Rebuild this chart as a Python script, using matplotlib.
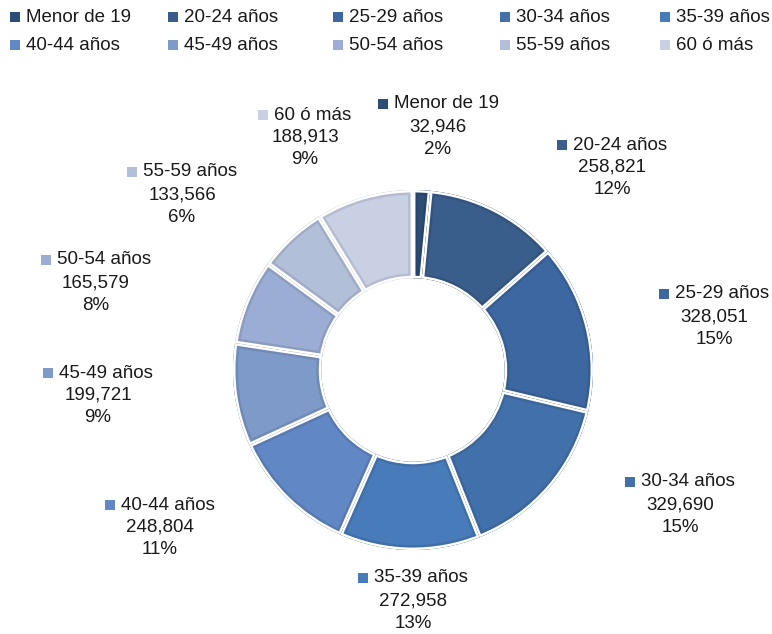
import matplotlib
matplotlib.use('AGG')

import matplotlib.pyplot as plt
from matplotlib.patches import Rectangle, Wedge

plt.rcParams['font.family'] = ['Liberation Sans', 'DejaVu Sans']

# data
groups = ['Menor de 19', '20-24 años', '25-29 años', '30-34 años', '35-39 años',
          '40-44 años', '45-49 años', '50-54 años', '55-59 años', '60 ó más']
values = [32946, 258821, 328051, 329690, 272958, 248804, 199721, 165579, 133566, 188913]
pct_labels = ['2%', '12%', '15%', '15%', '13%', '11%', '9%', '8%', '6%', '9%']
colors = ['#2C4D75', '#3A5E8C', '#3D67A0', '#4270AA', '#477BBA',
          '#6187C4', '#7E9AC9', '#9BADD4', '#B2BFD9', '#C9D0E4']
edge_colors = ['#27456A', '#34547E', '#375C90', '#3C659A', '#406FA8',
               '#5779B0', '#718AB5', '#8C9CBF', '#A0ACC4', '#B5BCCF']

W, H = 772, 634
fig = plt.figure(figsize=(W / 100, H / 100), dpi=100)
ax = fig.add_axes([0, 0, 1, 1])

def py(y):
    # pixel row -> data y
    return H - y

# donut
cx, cy, R = 413, py(370), 180
wedges, _ = ax.pie(values, colors=colors, startangle=90, counterclock=False,
                   center=(cx, cy), radius=R, frame=True,
                   wedgeprops=dict(width=R * 0.49, linewidth=0))
for w, ec in zip(wedges, edge_colors):
    # darker rim inside each slice, clipped to the slice itself
    rim = Wedge(w.center, w.r, w.theta1, w.theta2, width=w.width,
                facecolor='none', edgecolor=ec, linewidth=7)
    ax.add_patch(rim)
    clip = Wedge(w.center, w.r, w.theta1, w.theta2, width=w.width, transform=ax.transData)
    rim.set_clip_path(clip)
    # white gap between slices
    gap = Wedge(w.center, w.r, w.theta1, w.theta2, width=w.width,
                facecolor='none', edgecolor='white', linewidth=3.5)
    ax.add_patch(gap)
    clip2 = Wedge(w.center, w.r, w.theta1, w.theta2, width=w.width, transform=ax.transData)
    gap.set_clip_path(clip2)

ax.set_xlim(0, W)
ax.set_ylim(0, H)
ax.set_aspect('auto')
ax.axis('off')

fs = 13.5
sq = 10

# legend, two rows of five
leg_x = [10, 168, 333, 500, 660]
leg_y = [17, 45]
for i, (g, c) in enumerate(zip(groups, colors)):
    x = leg_x[i % 5]
    y = leg_y[i // 5]
    ax.add_patch(Rectangle((x, py(y) - sq / 2), sq, sq, facecolor=c, edgecolor='none'))
    ax.text(x + 16, py(y), g, fontsize=fs, va='center', ha='left', color='#1a1a1a')

# data labels: centre x and row of the first line
lab_cx = [438, 612, 714, 680, 413, 160, 98, 96, 182, 305]
lab_y = [104, 145, 294, 482, 578, 505, 373, 260, 172, 115]
line = 22.5
fig.canvas.draw()
rend = fig.canvas.get_renderer()
for i, g in enumerate(groups):
    x0 = lab_cx[i]
    y0 = lab_y[i]
    t = ax.text(x0 + 8, py(y0), g, fontsize=fs, va='center', ha='center', color='#1a1a1a')
    bb = t.get_window_extent(renderer=rend)
    left = bb.x0 * W / fig.bbox.width
    ax.add_patch(Rectangle((left - 16, py(y0) - sq / 2), sq, sq,
                           facecolor=colors[i], edgecolor='none'))
    ax.text(x0, py(y0 + line), f'{values[i]:,}', fontsize=fs, va='center', ha='center',
            color='#1a1a1a')
    ax.text(x0, py(y0 + 2 * line), pct_labels[i], fontsize=fs, va='center', ha='center',
            color='#1a1a1a')

plt.savefig('out.png', dpi=100)
